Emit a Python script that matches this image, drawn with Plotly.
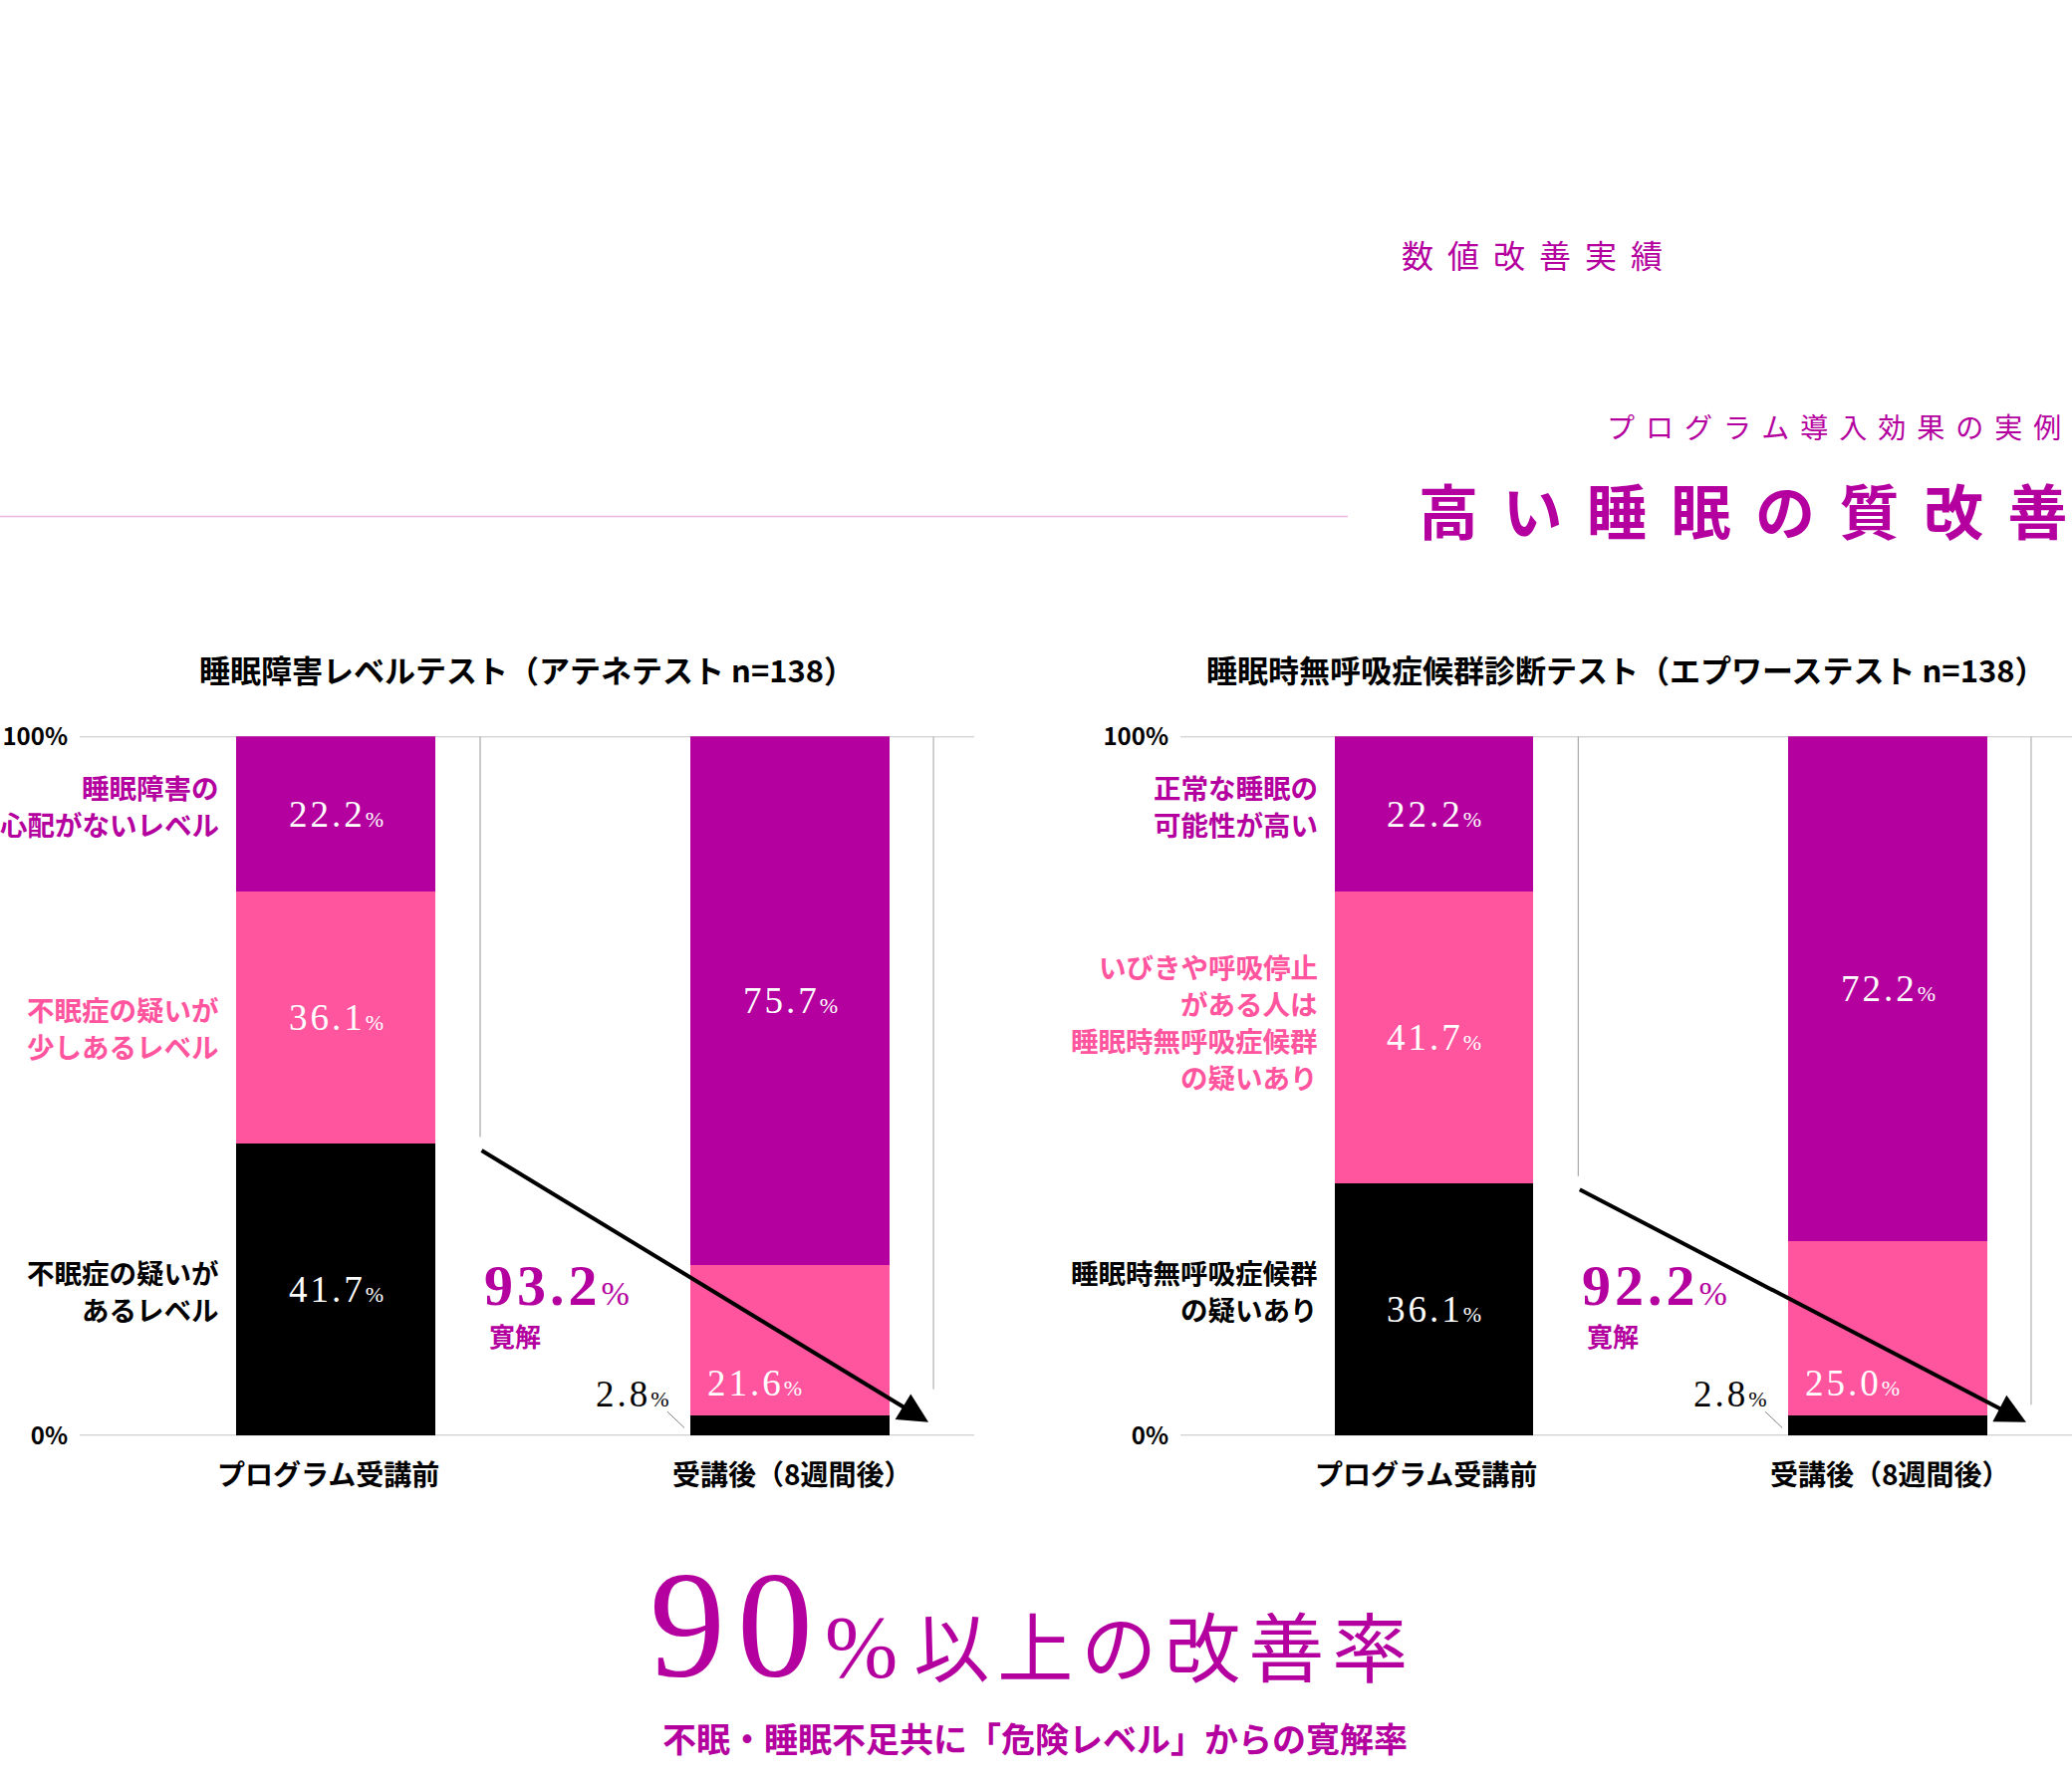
import plotly.graph_objects as go

# ---------------------------------------------------------------- data
CATEGORIES = ["プログラム受講前", "受講後（8週間後）"]

# Athens Insomnia Scale, share of respondents per level (%)
ATHENS_TITLE = "睡眠障害レベルテスト（アテネテスト n=138）"
ATHENS_GOOD = [22.2, 75.7]
ATHENS_MILD = [36.1, 21.6]
ATHENS_RISK = [41.7, 2.8]
ATHENS_REMISSION = 93.2
ATHENS_LABELS = [
    ["睡眠障害の", "心配がないレベル"],
    ["不眠症の疑いが", "少しあるレベル"],
    ["不眠症の疑いが", "あるレベル"],
]

# Epworth Sleepiness Scale, share of respondents per level (%)
EPWORTH_TITLE = "睡眠時無呼吸症候群診断テスト（エプワーステスト n=138）"
EPWORTH_GOOD = [22.2, 72.2]
EPWORTH_MILD = [41.7, 25.0]
EPWORTH_RISK = [36.1, 2.8]
EPWORTH_REMISSION = 92.2
EPWORTH_LABELS = [
    ["正常な睡眠の", "可能性が高い"],
    ["いびきや呼吸停止", "がある人は", "睡眠時無呼吸症候群", "の疑いあり"],
    ["睡眠時無呼吸症候群", "の疑いあり"],
]

Y_TICKS = [0, 100]
Y_TICK_TEXT = ["0%", "100%"]

# ---------------------------------------------------------------- style
W, H = 2080, 1790
PURPLE = "#B4009E"
PINK = "#FF559E"
BLACK = "#000000"
GRID = "#C4C4C4"
SANS = "Noto Sans CJK JP, sans-serif"
SERIF = "Liberation Serif, serif"

BAR_W = 0.4386          # bar width in category units
LABEL_Y = [             # vertical anchor of the side captions (value units)
    [90.1, 58.4, 20.8],
    [90.1, 59.2, 20.8],
]
RIGHT_LINE_END = [6.6, 4.4]
CAT_SHIFT = [-8, 2]     # horizontal nudge of the category captions (px)

# vertical placement calibration (page pixel -> layout pixel)
Y_SCALE, Y_OFFSET = 0.982, 19.6


def px_x(p):
    return p / W


def px_y(p):
    return 1 - ((p - Y_OFFSET) / Y_SCALE) / H


def pct(value, size, spacing=3):
    return (f"<span style='letter-spacing:{spacing}px'>{value:.1f}</span>"
            f"<span style='font-size:{size}px'>%</span>")


def spaced(text, spacing):
    # letter spacing between glyphs, none after the last one
    return f"<span style='letter-spacing:{spacing}px'>{text[:-1]}</span>{text[-1]}"


fig = go.Figure()
annotations = []
shapes = []

charts = [
    dict(title=ATHENS_TITLE, good=ATHENS_GOOD, mild=ATHENS_MILD, risk=ATHENS_RISK,
         remission=ATHENS_REMISSION, labels=ATHENS_LABELS,
         xa="x", ya="y", dom=[px_x(80), px_x(978)], rng=[-0.5636, 1.4057]),
    dict(title=EPWORTH_TITLE, good=EPWORTH_GOOD, mild=EPWORTH_MILD, risk=EPWORTH_RISK,
         remission=EPWORTH_REMISSION, labels=EPWORTH_LABELS,
         xa="x2", ya="y2", dom=[px_x(1185), 1.0], rng=[-0.5587, 1.4061]),
]


def note(**kw):
    base = dict(showarrow=False, xanchor="center", yanchor="middle")
    base.update(kw)
    annotations.append(base)


for ci, c in enumerate(charts):
    xa, ya = c["xa"], c["ya"]
    # stacked bars: bottom to top
    for vals, color in ((c["risk"], BLACK), (c["mild"], PINK), (c["good"], PURPLE)):
        fig.add_trace(go.Bar(x=CATEGORIES, y=vals, marker=dict(color=color, line=dict(width=0)),
                             width=BAR_W, xaxis=xa, yaxis=ya, hoverinfo="skip",
                             showlegend=False))

    # horizontal reference lines at 0% and 100%
    for t in Y_TICKS:
        shapes.append(dict(type="line", xref=f"{xa} domain", yref=ya, x0=0, x1=1, y0=t, y1=t,
                           line=dict(color=GRID, width=2), layer="below"))

    # category captions under the bars
    for i, cat in enumerate(CATEGORIES):
        note(xref=xa, yref=ya, x=i, y=0, xshift=CAT_SHIFT[i], yshift=-38, text=cat,
             font=dict(family=SANS, size=28, color=BLACK, weight=700))

    risk0, risk1 = c["risk"]
    mild0, mild1 = c["mild"]
    good0, good1 = c["good"]
    seg_font = dict(family=SERIF, size=37, color="white")

    # segment values on the "before" bar (centred)
    for bottom, v in ((0, risk0), (risk0, mild0), (risk0 + mild0, good0)):
        note(xref=xa, yref=ya, x=0, y=bottom + v / 2, text=pct(v, 22), font=seg_font)
    # "after" bar
    note(xref=xa, yref=ya, x=1, y=risk1 + mild1 + good1 / 2, text=pct(good1, 22), font=seg_font)
    left_edge = 1 - BAR_W / 2
    note(xref=xa, yref=ya, x=left_edge + 15 / 456, y=risk1 + 4.7, xanchor="left",
         text=pct(mild1, 22), font=seg_font)
    note(xref=xa, yref=ya, x=left_edge - 19 / 456, y=risk1 + 3.2, xanchor="right",
         text=pct(risk1, 22), font=dict(family=SERIF, size=37, color=BLACK))
    shapes.append(dict(type="line", xref=xa, yref=ya,
                       x0=left_edge - 23 / 456, y0=risk1 + 0.6,
                       x1=left_edge - 6 / 456, y1=risk1 - 1.7,
                       line=dict(color="#808080", width=1)))

    # side captions for each level
    for li, (lines, color) in enumerate(zip(c["labels"], (PURPLE, PINK, BLACK))):
        n = len(lines)
        for k, line in enumerate(lines):
            note(xref=xa, yref=ya, x=-BAR_W / 2 - 15 / 456, y=LABEL_Y[ci][li],
                 yshift=-(k - (n - 1) / 2) * 37, xanchor="right", text=line,
                 font=dict(family=SANS, size=27.5, color=color, weight=700))

    # guide lines and arrow
    shapes.append(dict(type="line", xref=xa, yref=ya, x0=0.318, x1=0.318, y0=100, y1=risk0 + 1.0,
                       line=dict(color="#A8A8A8", width=1.2)))
    shapes.append(dict(type="line", xref=xa, yref=ya, x0=1.316, x1=1.316, y0=100,
                       y1=RIGHT_LINE_END[ci], line=dict(color="#C0C0C0", width=1.5)))
    annotations.append(dict(xref=xa, yref=ya, x=1.305, y=1.9, axref=xa, ayref=ya,
                            ax=0.318, ay=risk0 - 0.8, text="", showarrow=True,
                            arrowhead=2, arrowsize=1.5, arrowwidth=4, arrowcolor=BLACK,
                            standoff=0, startstandoff=0))

    # remission rate
    note(xref=xa, yref=ya, x=0.322, y=21.4, xanchor="left",
         text=(f"<b><span style='letter-spacing:4px'>{c['remission']:.1f}</span></b>"
               f"<span style='font-size:34px'>%</span>"),
         font=dict(family=SERIF, size=58, color=PURPLE))
    note(xref=xa, yref=ya, x=0.333, y=14.4, xanchor="left", text="寛解",
         font=dict(family=SANS, size=26, color=PURPLE, weight=700))

    # chart title
    note(xref="paper", yref="paper", x=(c["dom"][0] + c["dom"][1]) / 2, y=px_y(672),
         text=c["title"], font=dict(family=SANS, size=31, color=BLACK, weight=700))

# ---------------------------------------------------------------- headings
note(xref="paper", yref="paper", x=px_x(1405), y=px_y(255), xanchor="left",
     text=spaced("数値改善実績", 14),
     font=dict(family=SANS, size=32, color=PURPLE))
note(xref="paper", yref="paper", x=px_x(1611), y=px_y(428), xanchor="left",
     text=spaced("プログラム導入効果の実例", 11),
     font=dict(family=SANS, size=28, color=PURPLE))
note(xref="paper", yref="paper", x=px_x(1422), y=px_y(511), xanchor="left",
     text=spaced("高い睡眠の質改善", 24.5),
     font=dict(family=SANS, size=60, color=PURPLE, weight=600))
note(xref="paper", yref="paper", x=px_x(650), y=px_y(1634), xanchor="left",
     text=("<span style='font-family:Liberation Serif;font-size:152px;letter-spacing:12px'>90</span>"
           "<span style='font-family:Liberation Serif;font-size:88px;letter-spacing:16px'>%</span>"
           "<span style='font-size:76px;letter-spacing:8px'>以上の改善</span>率"),
     font=dict(family=SANS, size=76, color=PURPLE))
note(xref="paper", yref="paper", x=px_x(1039), y=px_y(1747),
     text="不眠・睡眠不足共に「危険レベル」からの寛解率",
     font=dict(family=SANS, size=34, color=PURPLE, weight=700))

shapes.append(dict(type="line", xref="paper", yref="paper", x0=0, x1=px_x(1353),
                   y0=px_y(519), y1=px_y(519), line=dict(color="#EAB6E4", width=1.5)))

# ---------------------------------------------------------------- axes
y_dom = [px_y(1443), px_y(740)]
axis_common_x = dict(type="category", showgrid=False, zeroline=False, showline=False,
                     showticklabels=False, ticks="", fixedrange=True)
axis_common_y = dict(range=[0, 100], tickvals=Y_TICKS, ticktext=Y_TICK_TEXT,
                     showgrid=False, zeroline=False, showline=False, ticks="",
                     ticklabelstandoff=11,
                     tickfont=dict(family=SANS, size=24, color=BLACK, weight=700),
                     domain=y_dom, fixedrange=True)

fig.update_layout(
    width=W, height=H, margin=dict(l=0, r=0, t=0, b=0),
    paper_bgcolor="white", plot_bgcolor="rgba(0,0,0,0)",
    barmode="stack", bargap=0,
    xaxis=dict(domain=charts[0]["dom"], range=charts[0]["rng"], anchor="y", **axis_common_x),
    xaxis2=dict(domain=charts[1]["dom"], range=charts[1]["rng"], anchor="y2", **axis_common_x),
    yaxis=dict(anchor="x", **axis_common_y),
    yaxis2=dict(anchor="x2", **axis_common_y),
    annotations=annotations,
    shapes=shapes,
    showlegend=False,
)

fig.write_html("out.html")
